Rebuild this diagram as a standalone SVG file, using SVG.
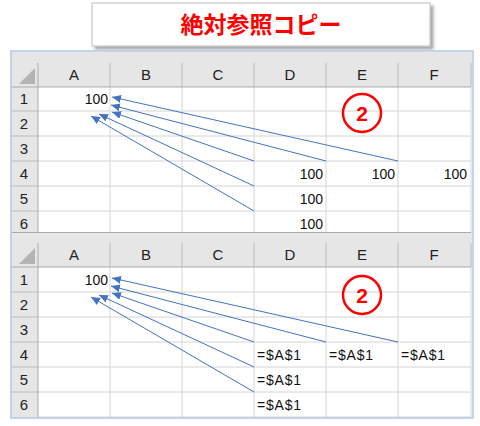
<svg xmlns="http://www.w3.org/2000/svg" width="480" height="426" viewBox="0 0 480 426">
<defs>
<style>
.hdr{fill:#e6e6e6}
.cell{fill:#ffffff}
.grid{stroke:#d4d4d4;stroke-width:1;fill:none}
.hsep{stroke:#bcbcbc;stroke-width:1;fill:none}
.hline{stroke:#ababab;stroke-width:1;fill:none}
.tri{fill:#b4b4b4}
.hl{font-family:"Liberation Sans",Arial,sans-serif;font-size:15px;fill:#222;text-anchor:middle}
.rn{font-family:"Liberation Sans",Arial,sans-serif;font-size:15px;fill:#222;text-anchor:middle}
.v{font-family:"Liberation Sans",Arial,sans-serif;font-size:14px;fill:#111;text-anchor:end}
.f{font-family:"Liberation Sans",Arial,sans-serif;font-size:14px;fill:#111;letter-spacing:0.8px}
.arr{stroke:#4472c4;stroke-width:1;fill:none;marker-end:url(#ah)}
.circ{fill:none;stroke:#ff0000;stroke-width:2.5}
.num{font-family:"Liberation Sans",Arial,sans-serif;font-size:21px;font-weight:bold;fill:#ff0000;text-anchor:middle}
</style>
<marker id="ah" markerUnits="userSpaceOnUse" markerWidth="10" markerHeight="8" refX="9" refY="4" orient="auto">
<path d="M0,0 L9,4 L0,8 Z" fill="#4472c4"/>
</marker>
<filter id="sh" x="-5%" y="-20%" width="115%" height="150%">
<feDropShadow dx="3" dy="3" stdDeviation="1.5" flood-color="#000" flood-opacity="0.35"/>
</filter>
</defs>
<rect width="480" height="426" fill="#ffffff"/>

<g id="title">
<rect x="92" y="3" width="338" height="43" fill="#ffffff" stroke="#bdbdbd" stroke-width="1" filter="url(#sh)"/>
<text x="261" y="33" font-family="'Noto Sans CJK JP',sans-serif" font-size="23" font-weight="bold" fill="#ff0000" text-anchor="middle">絶対参照コピー</text>
</g>

<g id="sheet1">
<rect class="hdr" x="11" y="52" width="461" height="35"/>
<rect class="hdr" x="11" y="87" width="27" height="145"/>
<rect class="cell" x="38" y="87" width="433" height="145"/>
<polygon class="tri" points="35,68 35,84 19,84"/>
<path class="hsep" d="M110,63V87M182,63V87M254,63V87M326,63V87M398,63V87M471,63V87"/>
<path class="hsep" d="M11,111H38M11,136H38M11,161H38M11,186H38M11,211H38"/>
<path class="grid" d="M110,87V232M182,87V232M254,87V232M326,87V232M398,87V232M471,87V232M38,111H471M38,136H471M38,161H471M38,186H471M38,211H471"/>
<path class="hline" d="M11,87H471M38,63V232"/>
<text class="hl" x="74" y="80">A</text>
<text class="hl" x="146" y="80">B</text>
<text class="hl" x="218" y="80">C</text>
<text class="hl" x="290" y="80">D</text>
<text class="hl" x="362" y="80">E</text>
<text class="hl" x="434" y="80">F</text>
<text class="rn" x="24" y="104">1</text>
<text class="rn" x="24" y="129">2</text>
<text class="rn" x="24" y="154">3</text>
<text class="rn" x="24" y="179">4</text>
<text class="rn" x="24" y="204">5</text>
<text class="rn" x="24" y="229">6</text>
<text class="v" x="108" y="104">100</text>
<text class="v" x="323" y="179">100</text>
<text class="v" x="395" y="179">100</text>
<text class="v" x="467" y="179">100</text>
<text class="v" x="323" y="204">100</text>
<text class="v" x="323" y="229">100</text>
</g>
<g id="badge1">
<circle class="circ" cx="362" cy="113" r="19"/>
<text class="num" x="362" y="120.5">2</text>
</g>

<g id="sheet2">
<rect class="hdr" x="11" y="232" width="461" height="35"/>
<rect class="hdr" x="11" y="267" width="27" height="151"/>
<rect class="cell" x="38" y="267" width="433" height="151"/>
<polygon class="tri" points="35,248 35,264 19,264"/>
<path class="hsep" d="M110,243V267M182,243V267M254,243V267M326,243V267M398,243V267M471,243V267"/>
<path class="hsep" d="M11,292H38M11,317H38M11,342H38M11,367H38M11,392H38"/>
<path class="grid" d="M110,267V418M182,267V418M254,267V418M326,267V418M398,267V418M471,267V418M38,292H471M38,317H471M38,342H471M38,367H471M38,392H471M38,417H471"/>
<path class="hline" d="M11,232.5H471M11,267H471M38,243V418"/>
<text class="hl" x="74" y="260">A</text>
<text class="hl" x="146" y="260">B</text>
<text class="hl" x="218" y="260">C</text>
<text class="hl" x="290" y="260">D</text>
<text class="hl" x="362" y="260">E</text>
<text class="hl" x="434" y="260">F</text>
<text class="rn" x="24" y="285">1</text>
<text class="rn" x="24" y="310">2</text>
<text class="rn" x="24" y="335">3</text>
<text class="rn" x="24" y="360">4</text>
<text class="rn" x="24" y="385">5</text>
<text class="rn" x="24" y="410">6</text>
<text class="v" x="108" y="285">100</text>
<text class="f" x="257" y="360">=$A$1</text>
<text class="f" x="329" y="360">=$A$1</text>
<text class="f" x="401" y="360">=$A$1</text>
<text class="f" x="257" y="385">=$A$1</text>
<text class="f" x="257" y="410">=$A$1</text>
</g>
<g id="badge2">
<circle class="circ" cx="362" cy="295" r="19"/>
<text class="num" x="362" y="302.5">2</text>
</g>

<rect id="frame" x="11" y="51" width="462" height="367" fill="none" stroke="#b4c7e7" stroke-width="1.5"/>

<g id="connectors">
<line class="arr" x1="398" y1="161" x2="112" y2="97"/>
<line class="arr" x1="326" y1="161" x2="111" y2="105"/>
<line class="arr" x1="254" y1="161" x2="112" y2="112"/>
<line class="arr" x1="254" y1="186" x2="99" y2="114"/>
<line class="arr" x1="254" y1="211" x2="91" y2="116"/>
<line class="arr" x1="398" y1="342" x2="112" y2="278"/>
<line class="arr" x1="326" y1="342" x2="111" y2="286"/>
<line class="arr" x1="254" y1="342" x2="112" y2="293"/>
<line class="arr" x1="254" y1="367" x2="99" y2="295"/>
<line class="arr" x1="254" y1="392" x2="91" y2="297"/>
</g>
</svg>
